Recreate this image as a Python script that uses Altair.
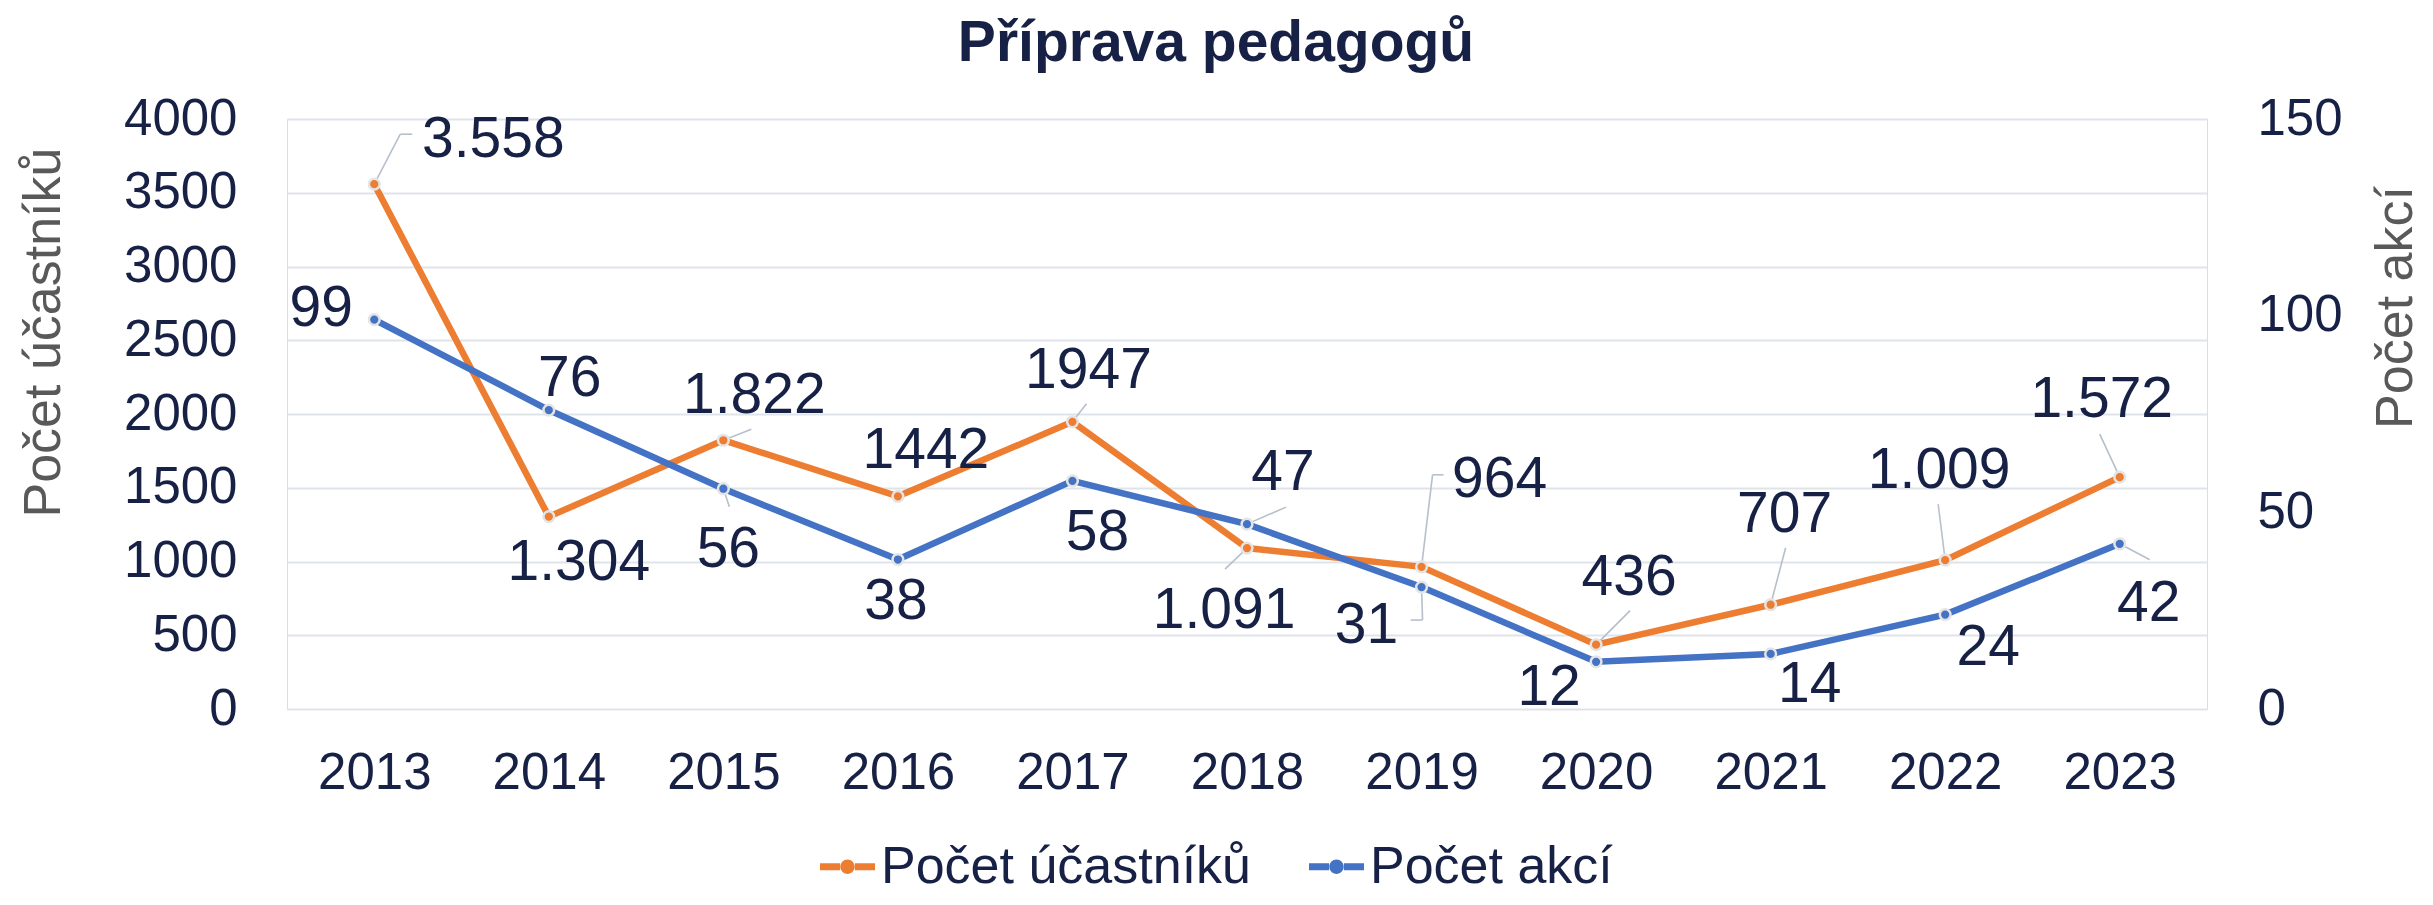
import altair as alt
import pandas as pd

# ---------------- data ----------------
years = ["2013", "2014", "2015", "2016", "2017", "2018", "2019", "2020", "2021", "2022", "2023"]
ucastniku = [3558, 1304, 1822, 1442, 1947, 1091, 964, 436, 707, 1009, 1572]
akci = [99, 76, 56, 38, 58, 47, 31, 12, 14, 24, 42]
ucastniku_labels = ["3.558", "1.304", "1.822", "1442", "1947", "1.091", "964", "436", "707", "1.009", "1.572"]
akci_labels = ["99", "76", "56", "38", "58", "47", "31", "12", "14", "24", "42"]
series_names = ["Počet účastníků", "Počet akcí"]
left_ticks = [0, 500, 1000, 1500, 2000, 2500, 3000, 3500, 4000]
right_ticks = [0, 50, 100, 150]

# ---------------- layout / style ----------------
# label offsets in pixels relative to each point (dx, dy)
ucastniku_label_offsets = [(119, -47), (30, 43), (31, -47), (28, -48), (16, -54), (-23, 60),
                           (78, -90), (33, -70), (14, -93), (-6, -92), (-18, -80)]
akci_label_offsets = [(-53, -14), (21, -34), (5, 58), (-2, 39), (25, 49), (36, -54),
                      (-55, 36), (-47, 23), (39, 28), (43, 30), (29, 57)]
# leader lines: (year index, x1, y1, x2, y2) in pixels relative to the point
ucastniku_leaders = [(0, 0, 0, 26, -50), (0, 26, -50, 38, -50), (2, 0, 0, 28, -11), (4, 0, 0, 14, -18),
                     (5, 0, 0, -22, 21), (6, 0, 0, 11, -92), (6, 11, -92, 22, -92), (7, 0, 0, 34, -34),
                     (8, 0, 0, 15, -57), (9, 0, 0, -7, -56), (10, 0, 0, -20, -43)]
akci_leaders = [(2, 0, 0, 6, 18), (5, 0, 0, 39, -17), (6, 0, 0, 1, 33), (6, 1, 33, -11, 33),
                (10, 0, 0, 30, 16)]

ORANGE = "#ED7D31"
BLUE = "#4472C4"
NAVY = "#172145"
GRAY = "#595959"
LEADER = "#b6c0cc"
FONT = "Liberation Sans"

df = pd.DataFrame({
    "year": years,
    "ucastniku": ucastniku,
    "akci": akci,
    "ucastniku_label": ucastniku_labels,
    "akci_label": akci_labels,
})

x_enc = alt.X(
    "year:O",
    scale=alt.Scale(type="point", padding=0.5),
    axis=alt.Axis(title=None, labelAngle=0, labelFontSize=51, labelColor=NAVY, labelFont=FONT,
                  ticks=False, tickSize=0, domain=False, grid=False, labelPadding=79,
                  labelBaseline="alphabetic"),
)
x2_enc = alt.X2("year")

y_left = alt.Y(
    "ucastniku:Q",
    scale=alt.Scale(domain=[0, 4000], nice=False, zero=True),
    axis=alt.Axis(values=left_ticks, format="d", title=series_names[0], titleFontSize=52,
                  titleColor=GRAY, titleFontWeight="normal", titleFont=FONT, titleX=-228,
                  titleY=213, titleAngle=270, titleBaseline="alphabetic", titleAlign="center",
                  labelFontSize=51, labelColor=NAVY, labelFont=FONT, labelPadding=50,
                  ticks=False, tickSize=0, domain=False, grid=True, gridColor="#dfe4ea",
                  gridWidth=2, labelBaseline="middle"),
)
y_right = alt.Y(
    "akci:Q",
    scale=alt.Scale(domain=[0, 150], nice=False, zero=True),
    axis=alt.Axis(orient="right", values=right_ticks, format="d", title=series_names[1],
                  titleFontSize=52, titleColor=GRAY, titleFontWeight="normal", titleFont=FONT,
                  titleX=204, titleY=188, titleAngle=270, titleBaseline="alphabetic",
                  titleAlign="center", labelFontSize=51, labelColor=NAVY, labelFont=FONT,
                  labelPadding=50, labelAlign="left", ticks=False, tickSize=0, domain=False,
                  grid=False, labelBaseline="middle"),
)

legend_path = ("M-1,-0.13L-0.27,-0.13L-0.27,0.13L-1,0.13Z "
               "M0.27,-0.13L1,-0.13L1,0.13L0.27,0.13Z "
               "M-0.26,0A0.26,0.26,0,1,1,0.26,0A0.26,0.26,0,1,1,-0.26,0Z")

color_enc = alt.Color(
    "series:N",
    scale=alt.Scale(domain=series_names, range=[ORANGE, BLUE]),
    legend=alt.Legend(orient="none", legendX=533, legendY=720, direction="horizontal",
                      title=None, labelFontSize=52, labelColor=NAVY, labelFont=FONT,
                      labelLimit=0, symbolType=legend_path, symbolSize=3025,
                      symbolStrokeWidth=0, symbolOpacity=1, labelOffset=6, columnPadding=58,
                      padding=0),
)


def series_group(field, label_field, y_enc, color, name, label_offsets, leaders):
    base = alt.Chart()
    layers = [
        base.mark_line(color=color, strokeWidth=6.5).encode(x=x_enc, y=y_enc),
    ]
    for (i, x1, y1, x2, y2) in leaders:
        layers.append(
            base.mark_rule(color=LEADER, strokeWidth=1.6, xOffset=x1, yOffset=y1,
                           x2Offset=x2, y2Offset=y2)
            .encode(x=x_enc, x2=x2_enc, y=y_enc, y2=alt.Y2(field))
            .transform_filter(alt.datum.year == years[i])
        )
    layers.append(
        base.mark_point(filled=True, size=115, stroke="#e4e4e4", strokeWidth=2.5, opacity=1)
        .encode(x=x_enc, y=y_enc, color=color_enc)
        .transform_calculate(series="'" + name + "'")
    )
    for i, (dx, dy) in enumerate(label_offsets):
        layers.append(
            base.mark_text(dx=dx, dy=dy + 3, fontSize=57, font=FONT, color=NAVY,
                           align="center", baseline="middle")
            .encode(x=x_enc, y=y_enc, text=alt.Text(label_field + ":N"))
            .transform_filter(alt.datum.year == years[i])
        )
    return alt.layer(*layers)


orange_group = series_group("ucastniku", "ucastniku_label", y_left, ORANGE, series_names[0],
                            ucastniku_label_offsets, ucastniku_leaders)
blue_group = series_group("akci", "akci_label", y_right, BLUE, series_names[1],
                          akci_label_offsets, akci_leaders)

chart = (
    alt.layer(orange_group, blue_group, data=df)
    .resolve_scale(y="independent")
    .properties(
        width=1920,
        height=590,
        autosize=alt.AutoSizeParams(type="none"),
        padding={"left": 279, "top": 111, "right": 218, "bottom": 186},
        title=alt.Title("Příprava pedagogů", fontSize=57, fontWeight="bold", color=NAVY,
                        font=FONT, anchor="middle", frame="group", baseline="alphabetic",
                        offset=-25, dx=-31),
    )
    .configure_view(stroke=None)
    .configure(background="white")
)

chart.save("out.html", embed_options={"renderer": "svg", "actions": False})
